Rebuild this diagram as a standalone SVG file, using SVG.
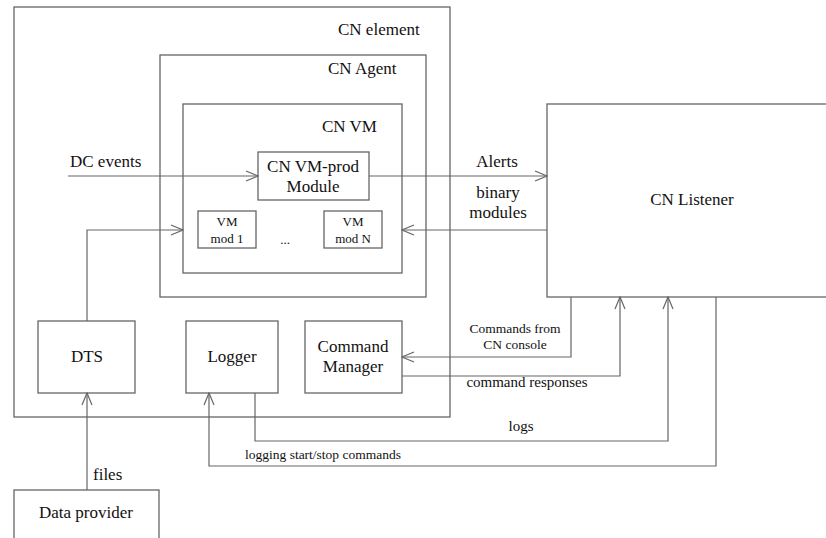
<svg xmlns="http://www.w3.org/2000/svg" width="826" height="538" viewBox="0 0 826 538" font-family="'Liberation Serif', 'Times New Roman', Times, serif">
<style>
.box{fill:#fff;stroke:#666;stroke-width:1.3}
.frame{fill:none;stroke:#666;stroke-width:1.3}
.ln{fill:none;stroke:#666;stroke-width:1.2}
text{font-family:'Liberation Serif','Times New Roman',Times,serif;fill:#111}
.l{font-size:17px}
.m{font-size:15px}
.s{font-size:13.5px}
.xs{font-size:13px}
</style>
<defs>
<marker id="arr" markerUnits="userSpaceOnUse" markerWidth="14" markerHeight="12" refX="13" refY="6" orient="auto" viewBox="0 0 14 12">
<path d="M1,1 L13,6 L1,11" fill="none" stroke="#666" stroke-width="1.2"/>
</marker>
</defs>
<rect width="826" height="538" fill="#fff"/>

<g id="cn-element">
<rect class="frame" x="14" y="7" width="436" height="410"/>
<text class="l" x="338" y="35">CN element</text>
</g>
<g id="cn-agent">
<rect class="frame" x="160" y="55" width="266" height="242"/>
<text class="l" x="328" y="74">CN Agent</text>
</g>
<g id="cn-vm">
<rect class="frame" x="183" y="104" width="219" height="169"/>
<text class="l" x="322" y="132">CN VM</text>
</g>
<g id="vm-prod">
<rect class="box" x="258" y="152" width="111" height="48"/>
<text class="l" x="313" y="172" text-anchor="middle">CN VM-prod</text>
<text class="l" x="313" y="192" text-anchor="middle">Module</text>
</g>
<g id="vm-mod-1">
<rect class="box" x="198" y="211" width="58" height="37"/>
<text class="xs" x="227" y="226" text-anchor="middle">VM</text>
<text class="xs" x="227" y="243" text-anchor="middle">mod 1</text>
</g>
<text class="xs" x="285" y="244" text-anchor="middle">...</text>
<g id="vm-mod-n">
<rect class="box" x="324" y="211" width="58" height="37"/>
<text class="xs" x="353" y="226" text-anchor="middle">VM</text>
<text class="xs" x="353" y="243" text-anchor="middle">mod N</text>
</g>
<g id="cn-listener">
<rect class="box" x="547" y="104" width="290" height="193"/>
<text class="l" x="692" y="205" text-anchor="middle">CN Listener</text>
</g>
<g id="dts">
<rect class="box" x="38" y="321" width="97" height="72"/>
<text class="l" x="87" y="362" text-anchor="middle">DTS</text>
</g>
<g id="logger">
<rect class="box" x="186" y="321" width="92" height="72"/>
<text class="l" x="232" y="362" text-anchor="middle">Logger</text>
</g>
<g id="command-manager">
<rect class="box" x="305" y="321" width="97" height="72"/>
<text class="l" x="353" y="352" text-anchor="middle">Command</text>
<text class="l" x="353" y="372" text-anchor="middle">Manager</text>
</g>
<g id="data-provider">
<rect class="box" x="14" y="490" width="145" height="60"/>
<text class="l" x="86" y="518" text-anchor="middle">Data provider</text>
</g>

<g id="connectors">
<path class="ln" d="M68,176 H258" marker-end="url(#arr)"/>
<text class="l" x="70" y="167">DC events</text>
<path class="ln" d="M87,321 V230 H183" marker-end="url(#arr)"/>
<path class="ln" d="M369,176 H547" marker-end="url(#arr)"/>
<text class="l" x="497" y="167" text-anchor="middle">Alerts</text>
<path class="ln" d="M547,230 H402" marker-end="url(#arr)"/>
<text class="l" x="498" y="198" text-anchor="middle">binary</text>
<text class="l" x="498" y="218" text-anchor="middle">modules</text>
<path class="ln" d="M87,490 V393" marker-end="url(#arr)"/>
<text class="l" x="93" y="480">files</text>
<path class="ln" d="M571,297 V357 H402" marker-end="url(#arr)"/>
<text class="s" x="515" y="333" text-anchor="middle">Commands from</text>
<text class="s" x="515" y="349" text-anchor="middle">CN console</text>
<path class="ln" d="M402,376 H620 V297" marker-end="url(#arr)"/>
<text class="m" x="527" y="387" text-anchor="middle">command responses</text>
<path class="ln" d="M255,393 V441 H668 V297" marker-end="url(#arr)"/>
<text class="m" x="521" y="431" text-anchor="middle">logs</text>
<path class="ln" d="M716,297 V466 H209 V393" marker-end="url(#arr)"/>
<text class="s" x="245" y="459">logging start/stop commands</text>
</g>
</svg>
